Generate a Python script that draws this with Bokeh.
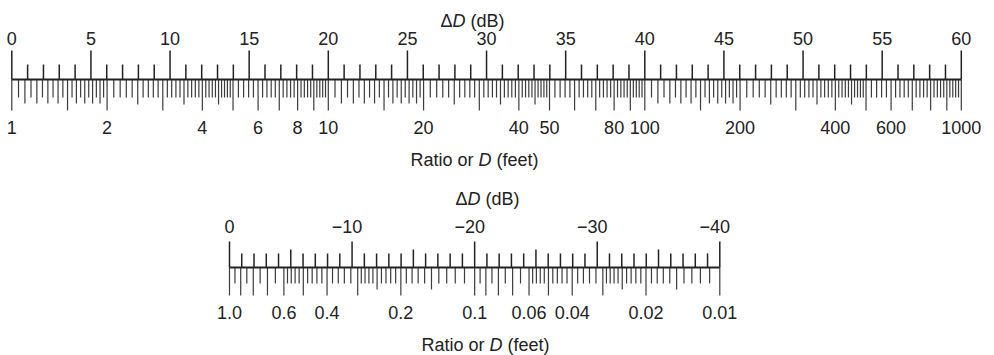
import math
from bokeh.plotting import figure
from bokeh.models import Range1d, LogScale, LinearScale
from bokeh.embed import file_html
from bokeh.resources import INLINE
from bokeh.core.properties import value

# ---------------- data ----------------
top_db_ticks = list(range(0, 61))
top_db_labels = [0, 5, 10, 15, 20, 25, 30, 35, 40, 45, 50, 55, 60]
top_db_label_text = ["0", "5", "10", "15", "20", "25", "30", "35", "40", "45", "50", "55", "60"]
top_ratio_labels = [1, 2, 4, 6, 8, 10, 20, 40, 50, 80, 100, 200, 400, 600, 1000]
top_ratio_label_text = ["1", "2", "4", "6", "8", "10", "20", "40", "50", "80", "100", "200", "400", "600", "1000"]
# graduations of the ratio scale: (from, to, step)
top_ratio_grads = [(1, 2, 0.05), (2, 5, 0.1), (5, 10, 0.2),
                   (10, 20, 0.5), (20, 50, 1), (50, 100, 2),
                   (100, 200, 5), (200, 500, 10), (500, 1000, 20)]

bot_db_ticks = list(range(0, -41, -1))
bot_db_labels = [0, -10, -20, -30, -40]
bot_db_label_text = ["0", "\u221210", "\u221220", "\u221230", "\u221240"]
bot_ratio_labels = [1.0, 0.6, 0.4, 0.2, 0.1, 0.06, 0.04, 0.02, 0.01]
bot_ratio_label_text = ["1.0", "0.6", "0.4", "0.2", "0.1", "0.06", "0.04", "0.02", "0.01"]
bot_ratio_grads = [(0.6, 1.0, 0.05), (0.3, 0.6, 0.02), (0.1, 0.3, 0.01),
                   (0.06, 0.1, 0.005), (0.03, 0.06, 0.002), (0.01, 0.03, 0.001)]

# ---------------- layout (window pixels) ----------------
W, H = 994, 355
X_LEFT, X_RIGHT = 0, W
TOP_X0, TOP_X1 = 11.3, 960.8      # dB 0 and dB 60
BOT_X0, BOT_X1 = 229.0, 719.3     # dB 0 and dB -40
TOP_LINE_Y, BOT_LINE_Y = 79, 267
FONT = "Liberation Sans"
FS = "18px"
FSN = 18
INK = "#222222"
TICK = "#3c3c3c"
TY = -7   # text baseline correction


def lin_range(x0, x1, d0, d1):
    k = (d1 - d0) / (x1 - x0)
    return Range1d(d0 + (X_LEFT - x0) * k, d0 + (X_RIGHT - x0) * k)


top_db_rng = lin_range(TOP_X0, TOP_X1, 0, 60)
bot_db_rng = lin_range(BOT_X0, BOT_X1, 0, -40)
top_ratio_rng = Range1d(10 ** (top_db_rng.start / 20), 10 ** (top_db_rng.end / 20))
bot_ratio_rng = Range1d(10 ** (bot_db_rng.start / 20), 10 ** (bot_db_rng.end / 20))

p = figure(width=W, height=H, output_backend="svg", toolbar_location=None,
           x_range=Range1d(X_LEFT, X_RIGHT), y_range=Range1d(H, 0),
           min_border=0, outline_line_color=None)
p.axis.visible = False
p.grid.visible = False
p.background_fill_color = "white"
p.border_fill_color = "white"
p.extra_x_ranges = {"db": top_db_rng, "ratio": top_ratio_rng,
                    "db2": bot_db_rng, "ratio2": bot_ratio_rng}
p.extra_x_scales = {"db": LinearScale(), "ratio": LogScale(),
                    "db2": LinearScale(), "ratio2": LogScale()}


def grad_values(grads):
    vals = []
    for a, b, s in grads:
        n = int(round((b - a) / s))
        for i in range(n + 1):
            vals.append(round(a + i * s, 6))
    return sorted(set(vals))


def mantissa(v):
    d = 10 ** math.floor(math.log10(v) + 1e-9)
    return round(v / d, 6)


def is_mult(m, q):
    return abs(m / q - round(m / q)) < 1e-6


def top_len(v):
    m = mantissa(v)
    if is_mult(m, 1) or abs(m - 1.5) < 1e-6:
        return 31
    if m < 2:
        return 24 if is_mult(m, 0.1) else 18
    if is_mult(m, 0.5):
        return 25
    return 18


def bot_len(v):
    m = mantissa(v)
    if is_mult(m, 1):
        return 28
    if m < 3 and is_mult(m, 0.5):
        return 22
    return 16


# ---- top scale ----
tv = grad_values(top_ratio_grads)
p.segment(x0=tv, x1=tv, y0=[TOP_LINE_Y] * len(tv), y1=[TOP_LINE_Y + top_len(v) for v in tv],
          x_range_name="ratio", line_color=TICK, line_width=1.2)
p.segment(x0=top_db_ticks, x1=top_db_ticks,
          y0=[TOP_LINE_Y - (29 if t % 5 == 0 else 15) for t in top_db_ticks],
          y1=[TOP_LINE_Y] * len(top_db_ticks),
          x_range_name="db", line_color=INK, line_width=1.5)
p.segment(x0=[top_db_ticks[0]], x1=[top_db_ticks[-1]], y0=[TOP_LINE_Y], y1=[TOP_LINE_Y],
          x_range_name="db", line_color=INK, line_width=2)
p.text(x=top_db_labels, y=[45 + TY] * len(top_db_labels), text=top_db_label_text,
       x_range_name="db", text_font=value(FONT), text_font_size=FS, text_color=INK,
       text_align="center", text_baseline="alphabetic")
p.text(x=top_ratio_labels, y=[134 + TY] * len(top_ratio_labels), text=top_ratio_label_text,
       x_range_name="ratio", text_font=value(FONT), text_font_size=FS, text_color=INK,
       text_align="center", text_baseline="alphabetic")

# ---- bottom scale ----
bv = grad_values(bot_ratio_grads)
p.segment(x0=bv, x1=bv, y0=[BOT_LINE_Y] * len(bv), y1=[BOT_LINE_Y + bot_len(v) for v in bv],
          x_range_name="ratio2", line_color=TICK, line_width=1.2)
p.segment(x0=bot_db_ticks, x1=bot_db_ticks,
          y0=[BOT_LINE_Y - (26 if t % 10 == 0 else (18 if t % 5 == 0 else 14)) for t in bot_db_ticks],
          y1=[BOT_LINE_Y] * len(bot_db_ticks),
          x_range_name="db2", line_color=INK, line_width=1.5)
p.segment(x0=[bot_db_ticks[0]], x1=[bot_db_ticks[-1]], y0=[BOT_LINE_Y], y1=[BOT_LINE_Y],
          x_range_name="db2", line_color=INK, line_width=2)
p.text(x=bot_db_labels, y=[233 + TY] * len(bot_db_labels), text=bot_db_label_text,
       x_range_name="db2", text_font=value(FONT), text_font_size=FS, text_color=INK,
       text_align="center", text_baseline="alphabetic",
       x_offset=[0] + [-5] * (len(bot_db_labels) - 1))
p.text(x=bot_ratio_labels, y=[319 + TY] * len(bot_ratio_labels), text=bot_ratio_label_text,
       x_range_name="ratio2", text_font=value(FONT), text_font_size=FS, text_color=INK,
       text_align="center", text_baseline="alphabetic")


# ---- titles (pieces: upright / italic D / upright) ----
def title(anchor, y, left, right):
    y = y + TY
    p.text(x=[anchor], y=[y], text=[left], text_font=value(FONT), text_font_size=FS,
           text_color=INK, text_align="right", text_baseline="alphabetic")
    p.text(x=[anchor], y=[y], text=["D"], text_font=value(FONT), text_font_size=FS,
           text_font_style="italic", text_color=INK, text_align="left", text_baseline="alphabetic")
    p.text(x=[anchor + 0.722 * FSN + 0.278 * FSN], y=[y], text=[right], text_font=value(FONT),
           text_font_size=FS, text_color=INK, text_align="left", text_baseline="alphabetic")


title(452, 27, "\u0394", "(dB)")
title(478, 166, "Ratio or ", "(feet)")
title(467, 205, "\u0394", "(dB)")
title(489, 351, "Ratio or ", "(feet)")

open("out.html", "w").write(file_html(p, INLINE))
